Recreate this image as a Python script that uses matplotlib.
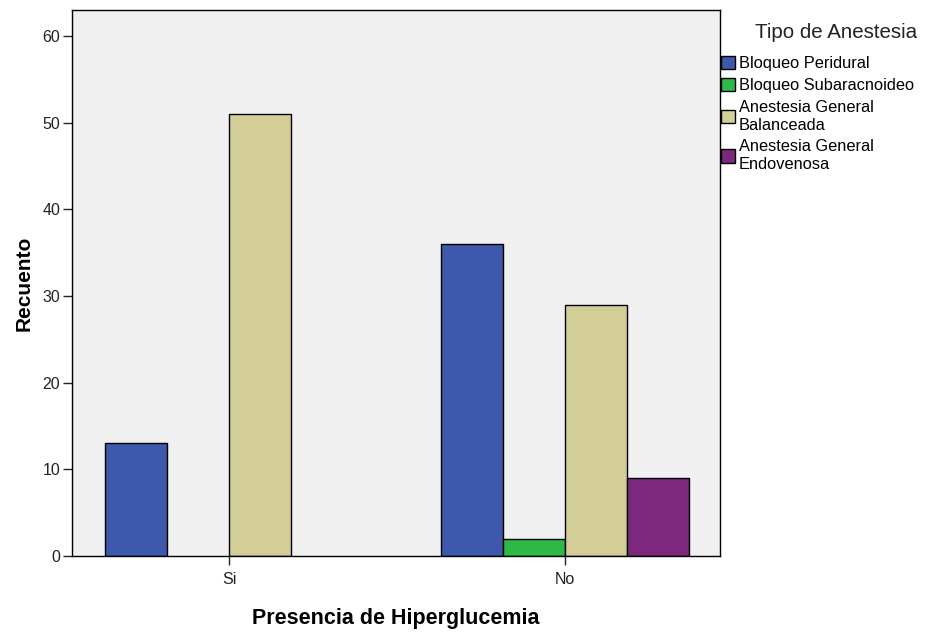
import numpy as np
import matplotlib.pyplot as plt
from matplotlib.patches import Patch

plt.rcParams['font.family'] = ['Liberation Sans', 'DejaVu Sans']

grupos = ['Si', 'No']
tipos = ['Bloqueo Peridural', 'Bloqueo Subaracnoideo',
         'Anestesia General\nBalanceada', 'Anestesia General\nEndovenosa']
colores = ['#3E58AC', '#2EB848', '#D3CE97', '#7C287D']

# recuento por tipo de anestesia (Si, No)
peridural = [13, 36]
subaracnoideo = [0, 2]
balanceada = [51, 29]
endovenosa = [0, 9]
valores = [peridural, subaracnoideo, balanceada, endovenosa]

fig = plt.figure(figsize=(9.28, 6.33), dpi=100)
ax = fig.add_axes([0.0776, 0.1216, 0.6983, 0.8626])
ax.set_facecolor('#F0F0F0')

x = np.arange(len(grupos))
w = 0.1845
for i, (vals, col) in enumerate(zip(valores, colores)):
    pos = x + (i - 1.5) * w
    for p, v in zip(pos, vals):
        if v > 0:
            ax.bar(p, v, width=w, color=col, edgecolor='black', linewidth=1.0, zorder=2)

ax.set_xlim(-0.467, 1.461)
ax.set_ylim(0, 63)
ax.set_xticks(x)
ax.set_xticklabels(grupos)
ax.set_yticks(range(0, 61, 10))
ax.tick_params(axis='both', labelsize=11.5, length=6.5, width=1, direction='out',
               colors='#222222', pad=2)
ax.tick_params(axis='x', pad=5)
for s in ax.spines.values():
    s.set_linewidth(1.0)

ax.set_xlabel('Presencia de Hiperglucemia', fontsize=15.5, fontweight='bold', labelpad=15)
ax.set_ylabel('Recuento', fontsize=15, fontweight='bold', labelpad=6)

fig.text(836 / 928, 1 - 32 / 633, 'Tipo de Anestesia', fontsize=14.8,
         ha='center', va='center', color='#222222')

handles = [Patch(facecolor=c, edgecolor='black', linewidth=1.0) for c in colores]
leg = fig.legend(handles, tipos, loc='upper left',
                 bbox_to_anchor=(721 / 928, 1 - 56 / 633), frameon=False, fontsize=11.8,
                 handlelength=0.85, handleheight=0.85,
                 handletextpad=0.25, labelspacing=0.42, borderaxespad=0.0, borderpad=0.0)
for t in leg.get_texts():
    t.set_linespacing(1.2)

fig.savefig('out.png', dpi=100)
